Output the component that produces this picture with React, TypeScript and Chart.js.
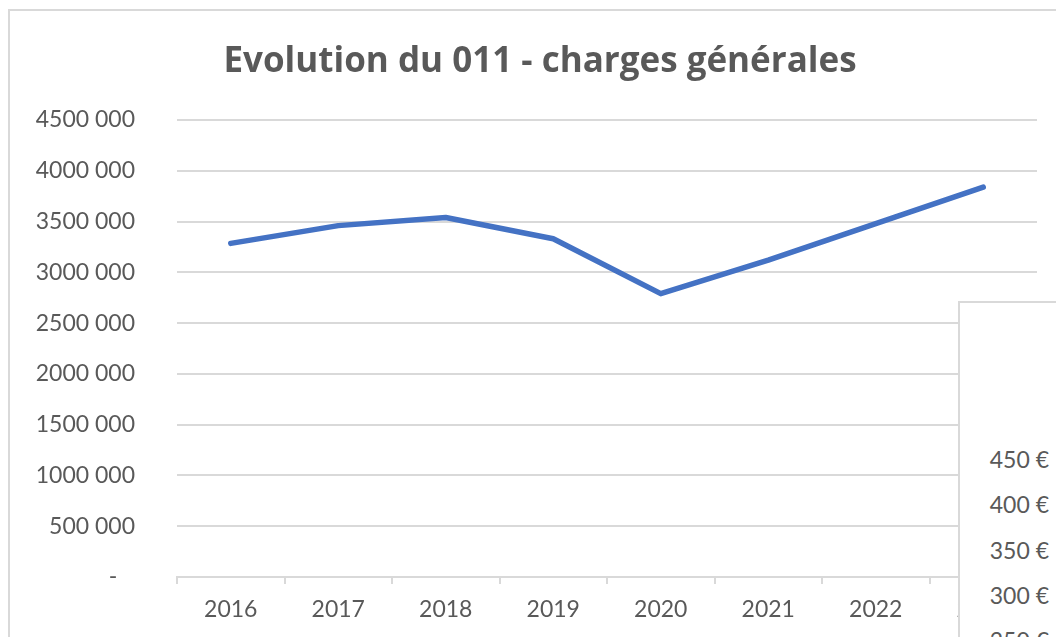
import React, { useEffect, useRef } from "react";
import { Chart, registerables } from "chart.js";

Chart.register(...registerables);

const chartTitle = "Evolution du 011 - charges générales";
const years = ["2016", "2017", "2018", "2019", "2020", "2021", "2022", "2023"];
const charges011 = [3285000, 3460000, 3540000, 3330000, 2790000, 3120000, 3480000, 3840000];
const yTickLabels = [
  "-   ",
  "500 000",
  "1000 000",
  "1500 000",
  "2000 000",
  "2500 000",
  "3000 000",
  "3500 000",
  "4000 000",
  "4500 000",
];
const yStep = 500000;
const yMax = 4500000;
const overlayTickLabels = ["450 €", "400 €", "350 €", "300 €", "250 €"];

const FONT = "Lato, 'Open Sans', sans-serif";
const TITLE_FONT = "'Open Sans', Lato, sans-serif";
const TEXT = "#595959";
const GRID = "#d9d9d9";

const framePlugin = {
  id: "frame",
  beforeDraw(chart: any) {
    const ctx = chart.ctx;
    ctx.save();
    ctx.fillStyle = "#ffffff";
    ctx.fillRect(0, 0, chart.width, chart.height);
    ctx.strokeStyle = GRID;
    ctx.lineWidth = 2;
    ctx.strokeRect(9, 10, 3000, 3000);
    ctx.restore();
  },
  afterDraw(chart: any) {
    const ctx = chart.ctx;
    ctx.save();
    ctx.fillStyle = TEXT;
    ctx.font = `bold 35px ${TITLE_FONT}`;
    ctx.textAlign = "center";
    ctx.textBaseline = "alphabetic";
    ctx.fillText(chartTitle, 540, 72);
    ctx.restore();
  },
};

export default function App() {
  const ref = useRef<HTMLCanvasElement | null>(null);

  useEffect(() => {
    if (!ref.current) return;
    const chart = new Chart(ref.current, {
      type: "line",
      data: {
        labels: years,
        datasets: [
          {
            data: charges011,
            borderColor: "#4472C4",
            backgroundColor: "#4472C4",
            borderWidth: 5.5,
            pointRadius: 0,
            pointHoverRadius: 0,
            tension: 0,
            borderCapStyle: "round",
            borderJoinStyle: "round",
            fill: false,
          },
        ],
      },
      options: {
        responsive: false,
        animation: false,
        devicePixelRatio: 1,
        layout: { padding: { left: 24, right: 19, top: 120, bottom: 0 } },
        plugins: {
          legend: { display: false },
          tooltip: { enabled: false },
          title: { display: false },
        },
        scales: {
          x: {
            offset: true,
            grid: {
              offset: true,
              drawOnChartArea: false,
              drawTicks: true,
              tickLength: 7,
              color: GRID,
              lineWidth: 2,
            },
            border: { display: true, color: GRID, width: 2 },
            ticks: {
              color: TEXT,
              font: { family: FONT, size: 23 },
              padding: 12,
              maxRotation: 0,
              autoSkip: false,
            },
            afterFit: (s: any) => {
              s.height = 60;
            },
          },
          y: {
            min: 0,
            max: yMax,
            grid: { drawTicks: false, color: GRID, lineWidth: 2 },
            border: { display: false },
            ticks: {
              stepSize: yStep,
              color: TEXT,
              font: { family: FONT, size: 23 },
              padding: 42,
              callback: (v: any) => yTickLabels[Math.round(Number(v) / yStep)] ?? "",
            },
            afterFit: (s: any) => {
              s.width = 153;
            },
          },
        },
      },
      plugins: [framePlugin],
    });
    return () => chart.destroy();
  }, []);

  return (
    <div
      style={{
        position: "fixed",
        left: 0,
        top: 0,
        width: 1056,
        height: 637,
        overflow: "hidden",
        background: "#fff",
      }}
    >
      <canvas ref={ref} width={1056} height={637} style={{ display: "block" }} />
      <div
        style={{
          position: "absolute",
          left: 958,
          top: 301,
          width: 200,
          height: 400,
          background: "#fff",
          borderLeft: `2px solid ${GRID}`,
          borderTop: `2px solid ${GRID}`,
        }}
      >
        {overlayTickLabels.map((t, i) => (
          <div
            key={t}
            style={{
              position: "absolute",
              right: 200 - 91 + 2,
              top: 142 + i * 45.3,
              fontFamily: FONT,
              fontSize: 23,
              lineHeight: "28px",
              color: TEXT,
              whiteSpace: "nowrap",
              textAlign: "right",
            }}
          >
            {t}
          </div>
        ))}
      </div>
    </div>
  );
}
